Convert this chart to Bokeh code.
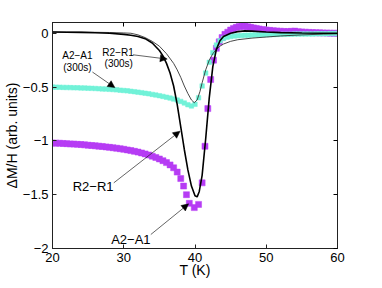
from bokeh.plotting import figure
from bokeh.models import FixedTicker, LinearAxis, Arrow, NormalHead, Label, ColumnDataSource
from bokeh.embed import file_html
from bokeh.resources import INLINE

# ---------------- data ----------------
# A2-A1 (magenta squares)
T_a = [20.0, 20.5, 21.0, 21.5, 22.0, 22.5, 23.0, 23.5, 24.0, 24.5, 25.0, 25.5, 26.0, 26.5,
       27.0, 27.5, 28.0, 28.5, 29.0, 29.5, 30.0, 30.5, 31.0, 31.5, 32.0, 32.5, 33.0, 33.5,
       34.0, 34.5, 35.0, 35.5, 36.0, 36.5, 37.0, 37.5, 38.0, 38.4, 38.8, 39.2, 39.9, 40.5,
       41.0, 41.4, 41.8, 42.2, 42.6, 43.0, 43.4, 43.8, 44.2, 44.6, 45.0, 45.4, 45.8, 46.2,
       46.6, 47.0, 47.4, 47.8, 48.2, 48.6, 49.0, 49.5, 50.0, 50.5, 51.0, 51.5, 52.0, 52.5,
       53.0, 53.5, 54.0, 54.5, 55.0, 55.5, 56.0, 56.5, 57.0, 57.5, 58.0, 58.5, 59.0, 59.5, 60.0]
dM_a = [-1.020, -1.021, -1.022, -1.024, -1.026, -1.028, -1.030, -1.032, -1.034, -1.037,
        -1.040, -1.043, -1.046, -1.049, -1.052, -1.056, -1.060, -1.064, -1.068, -1.073,
        -1.078, -1.084, -1.090, -1.097, -1.104, -1.112, -1.121, -1.131, -1.142, -1.154,
        -1.168, -1.184, -1.202, -1.223, -1.25, -1.29, -1.35, -1.42, -1.50, -1.58, -1.62,
        -1.59, -1.39, -1.05, -0.70, -0.43, -0.25, -0.14, -0.08, -0.04, -0.01, 0.01, 0.03,
        0.045, 0.055, 0.062, 0.066, 0.064, 0.060, 0.055, 0.050, 0.045, 0.040, 0.035, 0.030,
        0.027, 0.024, 0.021, 0.019, 0.017, 0.016, 0.018, 0.020, 0.015, 0.012, 0.010, 0.008,
        0.006, 0.005, 0.004, 0.003, 0.002, 0.001, 0.0, 0.0]

# A2-A1 (300s) (cyan squares)
T_c = [20.0, 20.5, 21.0, 21.5, 22.0, 22.5, 23.0, 23.5, 24.0, 24.5, 25.0, 25.5, 26.0, 26.5,
       27.0, 27.5, 28.0, 28.5, 29.0, 29.5, 30.0, 30.5, 31.0, 31.5, 32.0, 32.5, 33.0, 33.5,
       34.0, 34.5, 35.0, 35.5, 36.0, 36.5, 37.0, 37.5, 38.0, 38.5, 39.0, 39.5, 40.0, 40.5,
       41.0, 41.5, 42.0, 42.5, 43.0, 43.5, 44.0, 44.5, 45.0, 45.5, 46.0, 46.5, 47.0, 47.5,
       48.0, 48.5, 49.0, 49.5, 50.0, 50.5, 51.0, 51.5, 52.0, 52.5, 53.0, 53.5, 54.0, 54.5,
       55.0, 55.5, 56.0, 56.5, 57.0, 57.5, 58.0, 58.5, 59.0, 59.5, 60.0]
dM_c = [-0.500, -0.501, -0.502, -0.503, -0.504, -0.505, -0.506, -0.507, -0.508, -0.509,
        -0.510, -0.512, -0.513, -0.515, -0.517, -0.519, -0.521, -0.523, -0.526, -0.529,
        -0.532, -0.535, -0.539, -0.543, -0.547, -0.552, -0.557, -0.562, -0.568, -0.574,
        -0.580, -0.587, -0.594, -0.602, -0.611, -0.621, -0.633, -0.648, -0.664, -0.676,
        -0.660, -0.600, -0.490, -0.370, -0.270, -0.180, -0.110, -0.070, -0.048, -0.036,
        -0.030, -0.026, -0.023, -0.021, -0.019, -0.018, -0.017, -0.016, -0.015, -0.014,
        -0.013, -0.012, -0.012, -0.011, -0.010, -0.010, -0.009, -0.009, -0.008, -0.008,
        -0.007, -0.007, -0.006, -0.006, -0.005, -0.005, -0.004, -0.004, -0.003, -0.003, -0.002]

# R2-R1 (thick black line)
T_r = [20, 22, 24, 26, 28, 30, 31, 32, 33, 34, 35, 35.5, 36, 36.5, 37, 37.5, 38, 38.5, 39,
       39.5, 40, 40.3, 40.6, 41, 41.5, 42, 42.5, 43, 43.5, 44, 45, 46, 47, 48, 50, 52, 55, 58, 60]
dM_r = [0.012, 0.010, 0.008, 0.005, 0.0, -0.01, -0.018, -0.03, -0.05, -0.09, -0.16, -0.21,
        -0.28, -0.37, -0.49, -0.66, -0.87, -1.08, -1.27, -1.42, -1.51, -1.52, -1.47, -1.32,
        -0.98, -0.60, -0.31, -0.15, -0.07, -0.03, 0.0, 0.015, 0.022, 0.02, 0.012, 0.006,
        0.002, 0.0, 0.0]

# R2-R1 (300s) (thin line)
T_s = [20, 22, 24, 26, 28, 30, 31, 32, 33, 34, 35, 36, 37, 37.5, 38, 38.5, 39, 39.5, 39.9,
       40.3, 40.7, 41, 41.5, 42, 42.5, 43, 43.5, 44, 45, 46, 48, 50, 52, 55, 58, 60]
dM_s = [0.012, 0.011, 0.010, 0.009, 0.007, 0.003, 0.0, -0.015, -0.04, -0.075, -0.12, -0.19,
        -0.28, -0.34, -0.41, -0.49, -0.56, -0.62, -0.645, -0.62, -0.54, -0.46, -0.34, -0.25,
        -0.19, -0.15, -0.12, -0.10, -0.075, -0.06, -0.045, -0.035, -0.025, -0.015, -0.008, -0.005]

x_ticks = [20, 30, 40, 50, 60]
y_ticks = [0, -0.5, -1, -1.5, -2]
y_tick_labels = ["0", "\u22120.5", "\u22121", "\u22121.5", "\u22122"]

FONT = "Liberation Sans"
MAGENTA = "#b63cf4"
CYAN = "#72f2d8"

p = figure(width=366, height=280, x_range=(20, 60), y_range=(-2, 0.1),
           output_backend="svg", toolbar_location=None,
           min_border_left=44, min_border_right=29, min_border_top=22, min_border_bottom=32)
p.grid.visible = False
p.outline_line_color = "#222222"
p.outline_line_width = 1

for ax in (p.xaxis[0], p.yaxis[0]):
    ax.major_tick_in = 4
    ax.major_tick_out = 0
    ax.minor_tick_line_color = None
    ax.axis_line_color = "#222222"
    ax.major_tick_line_color = "#222222"
    ax.major_label_text_font = FONT
    ax.major_label_text_font_size = "13px"
    ax.major_label_text_color = "black"
    ax.axis_label_text_font = FONT
    ax.axis_label_text_font_size = "14px"
    ax.axis_label_text_font_style = "normal"
    ax.axis_label_text_color = "black"

p.xaxis.ticker = FixedTicker(ticks=x_ticks)
p.yaxis.ticker = FixedTicker(ticks=y_ticks)
p.yaxis.major_label_overrides = {t: s for t, s in zip(y_ticks, y_tick_labels)}
p.xaxis.axis_label = "T (K)"
p.yaxis.axis_label = "\u0394M/H (arb. units)"
p.xaxis.major_label_standoff = 4
p.xaxis.axis_label_standoff = -3
p.yaxis.major_label_standoff = 4
p.yaxis.axis_label_standoff = 0

top = LinearAxis(ticker=FixedTicker(ticks=x_ticks), major_tick_in=4, major_tick_out=0,
                 minor_tick_line_color=None, major_label_standoff=0,
                 major_label_overrides={t: "" for t in x_ticks},
                 major_label_text_font_size="1px", axis_line_color="#222222")
right = LinearAxis(ticker=FixedTicker(ticks=y_ticks), major_tick_in=4, major_tick_out=0,
                   minor_tick_line_color=None, major_label_standoff=0,
                   major_label_overrides={t: "" for t in y_ticks},
                   major_label_text_font_size="1px", axis_line_color="#222222")
p.add_layout(top, "above")
p.add_layout(right, "right")

src_a = ColumnDataSource(dict(T=T_a, dM=dM_a))
src_c = ColumnDataSource(dict(T=T_c, dM=dM_c))
src_r = ColumnDataSource(dict(T=T_r, dM=dM_r))
src_s = ColumnDataSource(dict(T=T_s, dM=dM_s))

p.scatter("T", "dM", source=src_a, marker="square", size=6, fill_color=MAGENTA,
          line_color=MAGENTA, line_width=0.5)
p.scatter("T", "dM", source=src_c, marker="square", size=4.5, fill_color=CYAN,
          line_color=CYAN, line_width=0.5)
p.line("T", "dM", source=src_s, line_color="#333333", line_width=0.9)
p.line("T", "dM", source=src_r, line_color="black", line_width=1.6)

def arrow(x0, y0, x1, y1):
    p.add_layout(Arrow(end=NormalHead(size=7, line_color="black", fill_color="black", line_width=0.5),
                       x_start=x0, y_start=y0, x_end=x1, y_end=y1,
                       line_color="#222222", line_width=0.7))

def label(x, y, text, size):
    p.add_layout(Label(x=x, y=y, text=text, text_align="center", text_baseline="middle",
                       text_font=FONT, text_font_size=size, text_color="black"))

label(23.5, -0.207, "A2\u2212A1", "10px")
label(23.5, -0.322, "(300s)", "10px")
arrow(25.6, -0.36, 28.75, -0.505)

label(29.2, -0.176, "R2\u2212R1", "10px")
label(29.3, -0.279, "(300s)", "10px")
arrow(31.3, -0.20, 36.1, -0.24)

label(25.7, -1.42, "R2\u2212R1", "13px")
arrow(28.6, -1.39, 37.9, -0.91)

label(31.0, -1.92, "A2\u2212A1", "13px")
arrow(33.8, -1.87, 39.1, -1.585)

open("out.html", "w").write(file_html(p, INLINE))
